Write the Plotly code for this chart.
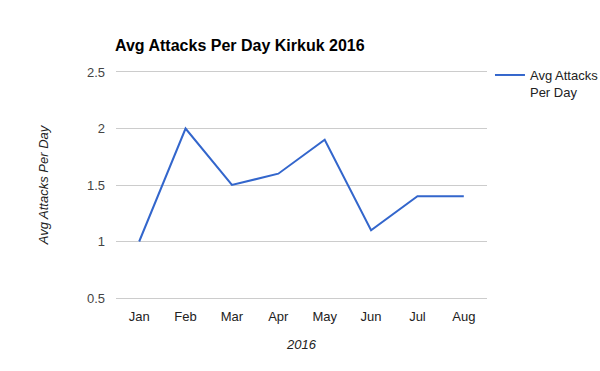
import plotly.graph_objects as go

months = ["Jan", "Feb", "Mar", "Apr", "May", "Jun", "Jul", "Aug"]
avg_attacks = [1.0, 2.0, 1.5, 1.6, 1.9, 1.1, 1.4, 1.4]
y_ticks = [0.5, 1, 1.5, 2, 2.5]
y_tick_labels = ["0.5", "1", "1.5", "2", "2.5"]

fig = go.Figure()
fig.add_trace(go.Scatter(
    x=months, y=avg_attacks, mode="lines",
    name="Avg Attacks<br>Per Day",
    line=dict(color="#3366cc", width=2),
))

fig.update_layout(
    width=600, height=371,
    margin=dict(l=116, r=113, t=72, b=73, autoexpand=False),
    paper_bgcolor="white", plot_bgcolor="white",
    font=dict(family="Liberation Sans, Arial", size=13, color="#222222"),
    title=dict(text="<b>Avg Attacks Per Day Kirkuk 2016</b>",
               x=115/600, xanchor="left", y=1-45/371, yanchor="middle",
               font=dict(size=16, color="#000000")),
    showlegend=True,
    legend=dict(x=1.008, xanchor="left", y=1.053, yanchor="top",
                font=dict(size=13, color="#222222"), valign="top",
                itemwidth=30, bgcolor="rgba(0,0,0,0)", tracegroupgap=0),
    xaxis=dict(range=[-0.5, 7.5], showgrid=False, zeroline=False,
               showline=True, mirror=True, linecolor="#cccccc", linewidth=1,
               ticks="", ticklabelstandoff=6,
               tickfont=dict(size=13, color="#222222"),
               title=dict(text="<i>2016</i>", font=dict(size=13, color="#222222"), standoff=17)),
    yaxis=dict(range=[0.5, 2.5], tickvals=y_ticks, ticktext=y_tick_labels,
               showgrid=True, gridcolor="#cccccc", gridwidth=1, zeroline=False,
               showline=False, ticks="", ticklabelstandoff=10,
               tickfont=dict(size=13, color="#444444"),
               title=dict(text="<i>Avg Attacks Per Day</i>", font=dict(size=13, color="#222222"), standoff=35)),
)

fig.write_html("out.html")
